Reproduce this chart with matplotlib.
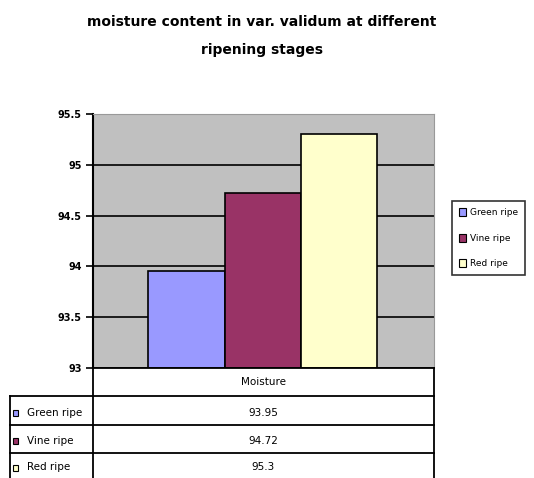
import matplotlib.pyplot as plt
from matplotlib.lines import Line2D
from matplotlib.patches import Rectangle

stages = ["Green ripe", "Vine ripe", "Red ripe"]
moisture = [93.95, 94.72, 95.3]
colors = ["#9999FF", "#993366", "#FFFFCC"]
category = "Moisture"
yticks = [93, 93.5, 94, 94.5, 95, 95.5]

W, H = 534, 478
fig = plt.figure(figsize=(W / 100, H / 100), dpi=100)


def fx(px):
    return px / W


def fy(py):
    return 1 - py / H


plot_l, plot_r, plot_t, plot_b = 93, 434, 114, 368
ax = fig.add_axes([fx(plot_l), fy(plot_b), fx(plot_r - plot_l), (plot_b - plot_t) / H])
ax.set_facecolor("#C0C0C0")

ax.bar(range(len(stages)), [v - 93 for v in moisture], bottom=93, width=1.0,
       color=colors, edgecolor="black", linewidth=1.2, zorder=3)

ax.set_ylim(93, 95.5)
ax.set_xlim(-1.22, 3.24)
ax.set_yticks(yticks)
ax.set_yticklabels([f"{t:g}" for t in yticks], fontsize=7, fontweight="bold")
ax.tick_params(axis="y", length=5, width=1.2, pad=3)
ax.set_xticks([])
ax.grid(axis="y", color="black", linewidth=1.2, zorder=1)
ax.spines["left"].set_linewidth(1.5)
ax.spines["bottom"].set_visible(False)
ax.spines["top"].set_color("#999999")
ax.spines["right"].set_color("#999999")

# title
fig.text(0.49, fy(22), "moisture content in var. validum at different",
         ha="center", va="center", fontsize=10, fontweight="bold")
fig.text(0.49, fy(50), "ripening stages",
         ha="center", va="center", fontsize=10, fontweight="bold")

# data table below the plot
row_edges = [368, 396, 425, 453, 478]
tab_l = 10
lw = 1.3


def hline(y, x0, x1):
    fig.add_artist(Line2D([fx(x0), fx(x1)], [fy(y), fy(y)], color="black", lw=lw))


def vline(x, y0, y1):
    fig.add_artist(Line2D([fx(x), fx(x)], [fy(y0), fy(y1)], color="black", lw=lw))


hline(row_edges[0], plot_l, plot_r)
for y in row_edges[1:-1]:
    hline(y, tab_l, plot_r)
vline(plot_l, row_edges[0], H)
vline(plot_r, row_edges[0], H)
vline(tab_l, row_edges[1], H)

cx = (plot_l + plot_r) / 2
fig.text(fx(cx), fy((row_edges[0] + row_edges[1]) / 2), category,
         ha="center", va="center", fontsize=7.5)
for i, (name, val, col) in enumerate(zip(stages, moisture, colors)):
    ymid = (row_edges[i + 1] + row_edges[i + 2]) / 2 + 2
    fig.add_artist(Rectangle((fx(13), fy(ymid + 3)), fx(5), 6 / H,
                             facecolor=col, edgecolor="black", lw=0.8))
    fig.text(fx(27), fy(ymid), name, ha="left", va="center", fontsize=7.5)
    fig.text(fx(cx), fy(ymid), f"{val:g}", ha="center", va="center", fontsize=7.5)

# legend
handles = [Rectangle((0, 0), 1, 1, facecolor=c, edgecolor="black", lw=0.8) for c in colors]
leg = fig.legend(handles, stages, loc="upper left",
                 bbox_to_anchor=(fx(452), fy(201)), fontsize=6.5,
                 frameon=True, fancybox=False, edgecolor="black",
                 handlelength=0.8, handleheight=1.0, handletextpad=0.4,
                 labelspacing=1.8, borderpad=0.8, borderaxespad=0)
leg.get_frame().set_linewidth(1.2)

fig.savefig("out.png", dpi=100)
